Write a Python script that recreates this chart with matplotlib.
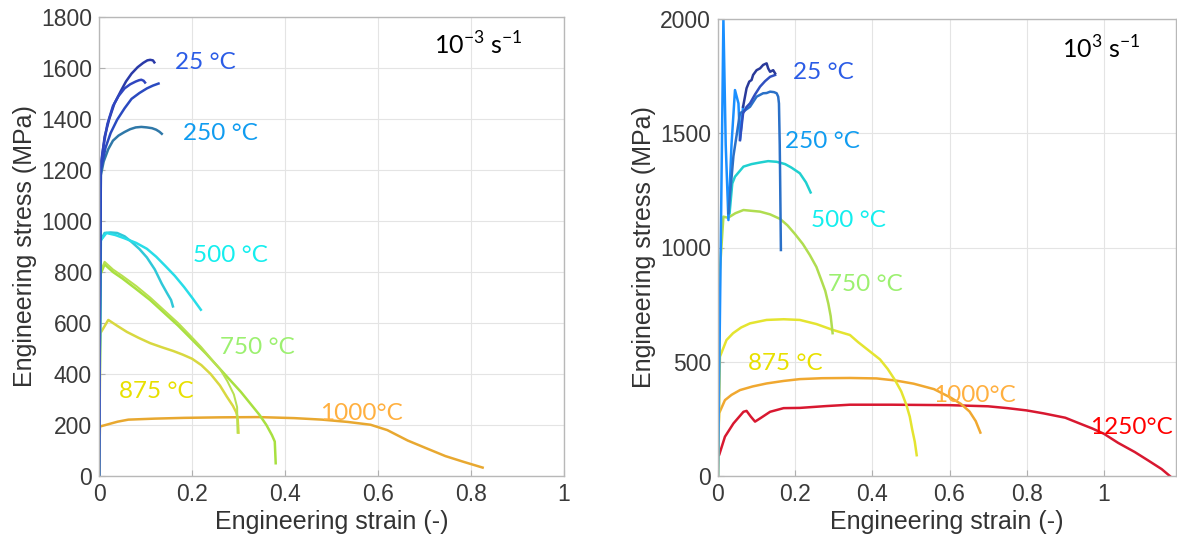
import numpy as np
import matplotlib.pyplot as plt

# ---- left panel, 10^-3 s^-1 (strain, stress in MPa) ----
L25a_x = [0, 0.002, 0.006, 0.012, 0.022, 0.033, 0.047, 0.058, 0.07, 0.083, 0.095, 0.104, 0.11, 0.116, 0.119]
L25a_y = [0, 1200, 1240, 1330, 1400, 1460, 1510, 1547, 1578, 1603, 1620, 1630, 1632, 1630, 1622]
L25b_x = [0, 0.003, 0.009, 0.018, 0.03, 0.042, 0.055, 0.067, 0.079, 0.086, 0.091, 0.096, 0.099]
L25b_y = [0, 1210, 1287, 1380, 1451, 1490, 1520, 1536, 1547, 1552, 1554, 1550, 1543]
L25c_x = [0, 0.004, 0.014, 0.025, 0.039, 0.055, 0.07, 0.087, 0.103, 0.116, 0.128]
L25c_y = [0, 1200, 1287, 1345, 1397, 1442, 1479, 1502, 1520, 1531, 1539]
L250_x = [0, 0.004, 0.01, 0.02, 0.03, 0.042, 0.055, 0.067, 0.079, 0.091, 0.103, 0.114, 0.123, 0.13, 0.135]
L250_y = [0, 1180, 1233, 1282, 1315, 1335, 1349, 1360, 1367, 1369, 1367, 1364, 1358, 1350, 1342]
L500a_x = [0, 0.003, 0.012, 0.025, 0.039, 0.055, 0.07, 0.087, 0.103, 0.12, 0.135, 0.147, 0.155, 0.159]
L500a_y = [0, 920, 953, 955, 953, 940, 918, 890, 857, 810, 754, 715, 690, 665]
L500b_x = [0, 0.004, 0.016, 0.035, 0.055, 0.08, 0.103, 0.123, 0.143, 0.163, 0.183, 0.2, 0.219]
L500b_y = [0, 925, 953, 945, 932, 914, 891, 860, 823, 785, 741, 700, 652]
L750a_x = [0, 0.003, 0.012, 0.03, 0.05, 0.08, 0.11, 0.14, 0.17, 0.2, 0.23, 0.255, 0.28, 0.305, 0.325, 0.345, 0.36, 0.372, 0.378, 0.38]
L750a_y = [0, 790, 830, 800, 775, 733, 690, 640, 590, 535, 480, 430, 380, 330, 285, 240, 200, 160, 135, 50]
L750b_x = [0, 0.003, 0.012, 0.03, 0.05, 0.08, 0.11, 0.14, 0.17, 0.195, 0.22, 0.24, 0.26, 0.276, 0.29, 0.297, 0.298]
L750b_y = [0, 800, 840, 810, 785, 745, 700, 650, 600, 553, 505, 462, 420, 372, 320, 270, 170]
L875_x = [0, 0.003, 0.02, 0.04, 0.06, 0.085, 0.11, 0.135, 0.16, 0.18, 0.2, 0.22, 0.24, 0.26, 0.275, 0.288, 0.295, 0.298, 0.3]
L875_y = [0, 560, 612, 588, 565, 542, 521, 505, 490, 476, 460, 435, 400, 355, 311, 275, 250, 230, 170]
L1000_x = [0, 0.002, 0.02, 0.04, 0.063, 0.12, 0.183, 0.26, 0.343, 0.42, 0.48, 0.535, 0.584, 0.62, 0.664, 0.705, 0.745, 0.785, 0.825]
L1000_y = [0, 194, 203, 213, 221, 225, 228, 230, 231, 227, 221, 212, 201, 180, 139, 108, 78, 55, 33]

# ---- right panel, 10^3 s^-1 ----
Rspk_x = [0, 0.004, 0.014, 0.02, 0.027, 0.035, 0.044, 0.053, 0.057, 0.065]
Rspk_y = [0, 560, 2000, 1450, 1120, 1450, 1689, 1631, 1470, 1616]
R25a_x = [0.065, 0.074, 0.081, 0.087, 0.091, 0.1, 0.109, 0.117, 0.126, 0.13, 0.135, 0.143, 0.148]
R25a_y = [1616, 1697, 1726, 1733, 1755, 1776, 1784, 1799, 1806, 1784, 1769, 1776, 1762]
R25b_x = [0.057, 0.065, 0.074, 0.083, 0.096, 0.109, 0.122, 0.135, 0.148]
R25b_y = [1470, 1587, 1615, 1631, 1670, 1704, 1728, 1747, 1755]
R250_x = [0.027, 0.04, 0.057, 0.07, 0.083, 0.1, 0.117, 0.126, 0.135, 0.145, 0.152, 0.156, 0.158, 0.16, 0.161, 0.163]
R250_y = [1150, 1400, 1588, 1600, 1616, 1660, 1675, 1676, 1682, 1680, 1675, 1660, 1630, 1450, 1310, 989]
R500_x = [0.03, 0.037, 0.044, 0.066, 0.087, 0.109, 0.13, 0.152, 0.174, 0.19, 0.212, 0.228, 0.24]
R500_y = [1150, 1280, 1310, 1354, 1365, 1372, 1378, 1375, 1365, 1350, 1325, 1285, 1241]
R750_x = [0, 0.005, 0.014, 0.026, 0.045, 0.066, 0.09, 0.109, 0.135, 0.161, 0.18, 0.2, 0.22, 0.238, 0.255, 0.267, 0.278, 0.286, 0.292, 0.297]
R750_y = [0, 900, 1135, 1130, 1150, 1164, 1160, 1157, 1145, 1125, 1097, 1058, 1015, 967, 915, 861, 810, 754, 700, 625]
R875_x = [0, 0.005, 0.022, 0.039, 0.06, 0.083, 0.126, 0.17, 0.212, 0.255, 0.298, 0.342, 0.363, 0.39, 0.42, 0.44, 0.459, 0.475, 0.488, 0.497, 0.503, 0.51, 0.515]
R875_y = [0, 522, 595, 625, 650, 668, 683, 686, 683, 665, 639, 617, 586, 550, 510, 468, 419, 370, 312, 260, 206, 150, 91]
R1000_x = [0, 0.003, 0.018, 0.035, 0.057, 0.09, 0.126, 0.17, 0.212, 0.27, 0.342, 0.411, 0.46, 0.507, 0.56, 0.603, 0.63, 0.652, 0.668, 0.68]
R1000_y = [150, 275, 332, 355, 376, 392, 405, 416, 424, 428, 429, 427, 418, 404, 380, 343, 315, 282, 240, 190]
R1250_x = [0, 0.003, 0.018, 0.04, 0.066, 0.074, 0.085, 0.096, 0.109, 0.135, 0.17, 0.212, 0.28, 0.342,
           0.45, 0.6, 0.7, 0.75, 0.8, 0.844, 0.9, 0.94, 0.97, 1.0, 1.037, 1.08, 1.114, 1.15, 1.171]
R1250_y = [90, 92, 172, 230, 281, 285, 260, 238, 252, 281, 297, 298, 306, 312,
           312, 310, 305, 297, 287, 274, 255, 228, 208, 185, 145, 105, 69, 30, 0]

temps = ['25 °C', '250 °C', '500 °C', '750 °C', '875 °C', '1000°C', '1250°C']
text_cols = ['#2b5ce6', '#109cf0', '#14eeee', '#9cf070', '#e8e000', '#ffb040', '#ff0000']

fig = plt.figure(figsize=(11.77, 5.48), dpi=100)
W, H = 1177, 548
ax1 = fig.add_axes([99 / W, 1 - 476 / H, 465 / W, 459 / H])
ax2 = fig.add_axes([718 / W, 1 - 476 / H, 458 / W, 457 / H])

lw = 1.8
# left: draw low temperatures last so the blue sits on top
ax1.plot(L1000_x, L1000_y, color='#e8a830', lw=lw)
ax1.plot(L875_x, L875_y, color='#d8d840', lw=lw)
ax1.plot(L750a_x, L750a_y, color='#a8e040', lw=lw)
ax1.plot(L750b_x, L750b_y, color='#b8e050', lw=lw * 0.8)
ax1.plot(L500a_x, L500a_y, color='#30c8d8', lw=lw)
ax1.plot(L500b_x, L500b_y, color='#28dde8', lw=lw)
ax1.plot(L250_x, L250_y, color='#2f78a8', lw=lw)
ax1.plot(L25a_x, L25a_y, color='#2a3aa8', lw=lw)
ax1.plot(L25b_x, L25b_y, color='#3046c0', lw=lw)
ax1.plot(L25c_x, L25c_y, color='#2a4ac0', lw=lw)

ax2.plot(R1250_x, R1250_y, color='#d81830', lw=lw)
ax2.plot(R1000_x, R1000_y, color='#f0a830', lw=lw)
ax2.plot(R875_x, R875_y, color='#e4e430', lw=lw)
ax2.plot(R750_x, R750_y, color='#b0dd50', lw=lw)
ax2.plot(R500_x, R500_y, color='#20d0d0', lw=lw)
ax2.plot(Rspk_x, Rspk_y, color='#1a8fff', lw=lw)
ax2.plot(R250_x, R250_y, color='#2a70c8', lw=lw)
ax2.plot(R25b_x, R25b_y, color='#3050c0', lw=lw)
ax2.plot(R25a_x, R25a_y, color='#2a3a9a', lw=lw)

# labels in data coords
L_lab_x = [0.163, 0.181, 0.202, 0.260, 0.043, 0.475]
L_lab_y = [1620, 1345, 863, 502, 333, 247]
R_lab_x = [0.194, 0.174, 0.241, 0.285, 0.078, 0.557, 0.964]
R_lab_y = [1764, 1466, 1120, 836, 494, 354, 214]
for i in range(6):
    ax1.text(L_lab_x[i], L_lab_y[i], temps[i], color=text_cols[i], fontsize=17.5,
             family='Lato', va='center', ha='left')
for i in range(7):
    ax2.text(R_lab_x[i], R_lab_y[i], temps[i], color=text_cols[i], fontsize=17.5,
             family='Lato', va='center', ha='left')

ax1.text(0.72, 0.94, r'10$^{\mathregular{-3}}$ s$^{\mathregular{-1}}$', transform=ax1.transAxes,
         fontsize=18, family='Lato', va='center')
ax2.text(0.75, 0.935, r'10$^{\mathregular{3}}$ s$^{\mathregular{-1}}$', transform=ax2.transAxes,
         fontsize=18, family='Lato', va='center')

for ax, ymax, ystep, xmax in [(ax1, 1800, 200, 1.0), (ax2, 2000, 500, 1.187)]:
    ax.set_xlim(0, xmax)
    ax.set_ylim(0, ymax)
    ax.set_xticks([0, 0.2, 0.4, 0.6, 0.8, 1.0])
    ax.set_xticklabels(['0', '0.2', '0.4', '0.6', '0.8', '1'])
    ax.set_yticks(np.arange(0, ymax + 1, ystep))
    ax.grid(True, color='#e4e4e4', lw=0.8)
    ax.set_axisbelow(True)
    ax.tick_params(direction='in', length=4, colors='#b0b0b0', labelcolor='#3a3a3a',
                   labelsize=16.5, pad=5)
    for s in ax.spines.values():
        s.set_color('#b8b8b8')
        s.set_linewidth(1.0)
    for t in ax.get_xticklabels() + ax.get_yticklabels():
        t.set_family('Liberation Sans')
    ax.set_xlabel('Engineering strain (-)', fontsize=18, family='Liberation Sans',
                  color='#333333', labelpad=3)
    ax.set_ylabel('Engineering stress (MPa)', fontsize=18, family='Liberation Sans',
                  color='#333333', labelpad=3)

plt.savefig('out.png', dpi=100)
